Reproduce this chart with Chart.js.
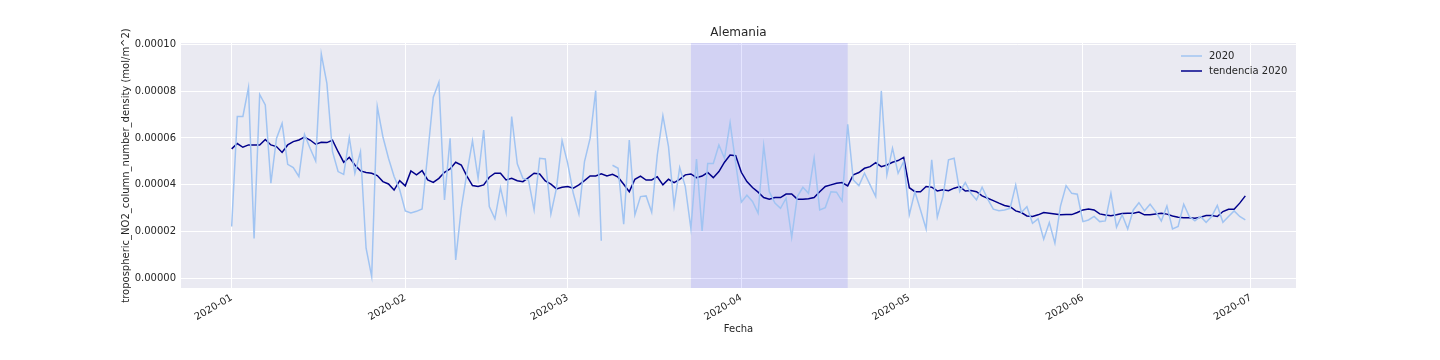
<!DOCTYPE html>
<html>
<head>
<meta charset="utf-8">
<script src="https://cdn.jsdelivr.net/npm/chart.js@4/dist/chart.umd.min.js"></script>
<style>
  html, body { margin: 0; padding: 0; background: #ffffff; }
  #wrap { width: 1440px; height: 360px; }
</style>
</head>
<body>
<div id="wrap"><canvas id="chart" width="1440" height="360"></canvas></div>
<script>
// day 0 = 2020-01-01, one value per day up to 2020-06-30
const startDate = '2020-01-01';

const no2_2020 = [
  2.21e-5, 6.92e-5, 6.92e-5, 8.15e-5, 1.70e-5, 7.86e-5, 7.41e-5, 4.06e-5, 5.98e-5, 6.62e-5,
  4.87e-5, 4.73e-5, 4.35e-5, 6.15e-5, 5.56e-5, 5.01e-5, 9.59e-5, 8.33e-5, 5.41e-5, 4.56e-5,
  4.44e-5, 6.01e-5, 4.49e-5, 5.41e-5, 1.28e-5, 0.07e-5, 7.34e-5, 6.05e-5, 5.13e-5, 4.35e-5,
  3.78e-5, 2.88e-5, 2.79e-5, 2.86e-5, 2.96e-5, 5.30e-5, 7.74e-5, 8.38e-5, 3.35e-5, 5.98e-5,
  0.78e-5, 2.99e-5, 4.49e-5, 5.87e-5, 4.27e-5, 6.34e-5, 3.06e-5, 2.54e-5, 3.87e-5, 2.81e-5,
  6.91e-5, 4.89e-5, 4.27e-5, 4.20e-5, 2.92e-5, 5.13e-5, 5.10e-5, 2.75e-5, 3.85e-5, 5.88e-5,
  4.91e-5, 3.63e-5, 2.75e-5, 4.99e-5, 5.98e-5, 8.02e-5, 1.60e-5, null,    4.83e-5, 4.70e-5,
  2.31e-5, 5.91e-5, 2.71e-5, 3.49e-5, 3.52e-5, 2.82e-5, 5.27e-5, 6.95e-5, 5.63e-5, 3.09e-5,
  4.73e-5, 3.92e-5, 2.12e-5, 5.10e-5, 2.02e-5, 4.91e-5, 4.91e-5, 5.70e-5, 5.13e-5, 6.65e-5,
  4.91e-5, 3.25e-5, 3.55e-5, 3.28e-5, 2.78e-5, 5.67e-5, 3.70e-5, 3.21e-5, 2.99e-5, 3.42e-5,
  1.75e-5, 3.49e-5, 3.89e-5, 3.63e-5, 5.13e-5, 2.92e-5, 3.02e-5, 3.70e-5, 3.68e-5, 3.30e-5,
  6.58e-5, 4.20e-5, 3.96e-5, 4.49e-5, 3.99e-5, 3.49e-5, 8.01e-5, 4.42e-5, 5.56e-5, 4.49e-5,
  4.99e-5, 2.71e-5, 3.70e-5, 2.92e-5, 2.11e-5, 5.06e-5, 2.61e-5, 3.49e-5, 5.06e-5, 5.13e-5,
  3.70e-5, 4.09e-5, 3.63e-5, 3.35e-5, 3.89e-5, 3.38e-5, 2.95e-5, 2.89e-5, 2.92e-5, 2.99e-5,
  3.99e-5, 2.81e-5, 3.06e-5, 2.35e-5, 2.54e-5, 1.67e-5, 2.38e-5, 1.50e-5, 3.09e-5, 3.96e-5,
  3.63e-5, 3.59e-5, 2.42e-5, 2.49e-5, 2.64e-5, 2.42e-5, 2.45e-5, 3.63e-5, 2.18e-5, 2.71e-5,
  2.11e-5, 2.92e-5, 3.23e-5, 2.88e-5, 3.16e-5, 2.85e-5, 2.45e-5, 3.09e-5, 2.11e-5, 2.21e-5,
  3.16e-5, 2.64e-5, 2.45e-5, 2.64e-5, 2.39e-5, 2.64e-5, 3.11e-5, 2.39e-5, 2.64e-5, 2.88e-5,
  2.64e-5, 2.49e-5
];

const tendencia_2020 = [
  5.53e-5, 5.76e-5, 5.60e-5, 5.70e-5, 5.70e-5, 5.70e-5, 5.93e-5, 5.70e-5, 5.63e-5, 5.38e-5,
  5.70e-5, 5.84e-5, 5.91e-5, 6.04e-5, 5.91e-5, 5.73e-5, 5.81e-5, 5.80e-5, 5.90e-5, 5.41e-5,
  4.96e-5, 5.17e-5, 4.84e-5, 4.59e-5, 4.52e-5, 4.49e-5, 4.39e-5, 4.13e-5, 4.03e-5, 3.77e-5,
  4.17e-5, 3.95e-5, 4.59e-5, 4.42e-5, 4.60e-5, 4.20e-5, 4.10e-5, 4.27e-5, 4.53e-5, 4.67e-5,
  4.96e-5, 4.84e-5, 4.37e-5, 3.96e-5, 3.92e-5, 3.99e-5, 4.32e-5, 4.49e-5, 4.49e-5, 4.20e-5,
  4.27e-5, 4.17e-5, 4.13e-5, 4.30e-5, 4.49e-5, 4.46e-5, 4.16e-5, 4.02e-5, 3.82e-5, 3.89e-5,
  3.92e-5, 3.85e-5, 3.99e-5, 4.17e-5, 4.37e-5, 4.37e-5, 4.46e-5, 4.37e-5, 4.44e-5, 4.32e-5,
  4.02e-5, 3.70e-5, 4.23e-5, 4.37e-5, 4.20e-5, 4.20e-5, 4.34e-5, 3.99e-5, 4.23e-5, 4.09e-5,
  4.23e-5, 4.42e-5, 4.46e-5, 4.30e-5, 4.37e-5, 4.52e-5, 4.30e-5, 4.56e-5, 4.96e-5, 5.27e-5,
  5.24e-5, 4.53e-5, 4.13e-5, 3.88e-5, 3.68e-5, 3.45e-5, 3.38e-5, 3.45e-5, 3.45e-5, 3.60e-5,
  3.60e-5, 3.38e-5, 3.38e-5, 3.40e-5, 3.45e-5, 3.70e-5, 3.92e-5, 3.99e-5, 4.06e-5, 4.09e-5,
  3.95e-5, 4.42e-5, 4.52e-5, 4.70e-5, 4.77e-5, 4.94e-5, 4.77e-5, 4.84e-5, 4.96e-5, 5.03e-5,
  5.17e-5, 3.87e-5, 3.70e-5, 3.70e-5, 3.92e-5, 3.89e-5, 3.73e-5, 3.78e-5, 3.74e-5, 3.85e-5,
  3.92e-5, 3.73e-5, 3.75e-5, 3.70e-5, 3.52e-5, 3.42e-5, 3.32e-5, 3.21e-5, 3.11e-5, 3.06e-5,
  2.88e-5, 2.81e-5, 2.66e-5, 2.64e-5, 2.71e-5, 2.81e-5, 2.78e-5, 2.75e-5, 2.71e-5, 2.72e-5,
  2.72e-5, 2.81e-5, 2.92e-5, 2.96e-5, 2.92e-5, 2.75e-5, 2.70e-5, 2.67e-5, 2.71e-5, 2.77e-5,
  2.78e-5, 2.78e-5, 2.83e-5, 2.71e-5, 2.71e-5, 2.75e-5, 2.78e-5, 2.74e-5, 2.66e-5, 2.61e-5,
  2.59e-5, 2.59e-5, 2.56e-5, 2.61e-5, 2.68e-5, 2.68e-5, 2.64e-5, 2.85e-5, 2.95e-5, 2.95e-5,
  3.21e-5, 3.52e-5
];

// month ticks (day offset from startDate) and their labels
const monthDays = [0, 31, 60, 91, 121, 152, 182];
const monthLabels = ['2020-01', '2020-02', '2020-03', '2020-04', '2020-05', '2020-06', '2020-07'];
const yTicks = [0, 0.00002, 0.00004, 0.00006, 0.00008, 0.0001];

// confinamiento: 2020-03-23 .. 2020-04-20 (day offsets)
const spanDays = [82, 110];

const TXT = '#262626';
const FONT = 'DejaVu Sans';

const toPoints = arr => arr.map((v, i) => ({ x: i, y: v }));

const bgPlugin = {
    id: 'axesBg',
    beforeDraw(chart) {
        const { ctx, chartArea: a } = chart;
        ctx.save();
        ctx.fillStyle = '#eaeaf2';
        ctx.fillRect(a.left, a.top, a.right - a.left, a.bottom - a.top);
        ctx.restore();
    },
    beforeDatasetsDraw(chart) {
        const { ctx, chartArea: a, scales: { x } } = chart;
        const x0 = x.getPixelForValue(spanDays[0]);
        const x1 = x.getPixelForValue(spanDays[1]);
        ctx.save();
        ctx.fillStyle = 'rgba(0, 0, 255, 0.1)';
        ctx.fillRect(x0, a.top, x1 - x0, a.bottom - a.top);
        ctx.restore();
    }
};

// legend drawn inside the axes, upper right (like matplotlib)
const innerLegend = {
    id: 'innerLegend',
    afterDatasetsDraw(chart) {
        const { ctx, chartArea: a } = chart;
        ctx.save();
        ctx.font = `10px "${FONT}"`;
        ctx.textBaseline = 'middle';
        chart.data.datasets.forEach((ds, i) => {
            const y = a.top + 13 + i * 15;
            ctx.strokeStyle = ds.borderColor;
            ctx.lineWidth = 1.5;
            ctx.beginPath();
            ctx.moveTo(a.right - 115, y);
            ctx.lineTo(a.right - 94, y);
            ctx.stroke();
            ctx.fillStyle = TXT;
            ctx.fillText(ds.label, a.right - 87, y);
        });
        ctx.restore();
    }
};

new Chart(document.getElementById('chart'), {
    type: 'line',
    data: {
        datasets: [
            { label: '2020', data: toPoints(no2_2020), borderColor: '#a1c4f2', borderWidth: 1.5, pointRadius: 0, spanGaps: false, tension: 0 },
            { label: 'tendencia 2020', data: toPoints(tendencia_2020), borderColor: '#00008b', borderWidth: 1.5, pointRadius: 0, tension: 0 }
        ]
    },
    options: {
        responsive: false,
        animation: false,
        events: [],
        layout: { padding: { left: 0, right: 144, top: 0, bottom: 0 } },
        plugins: {
            legend: { display: false },
            tooltip: { enabled: false },
            title: {
                display: true, text: 'Alemania', fullSize: false, color: TXT,
                font: { family: FONT, size: 12, weight: 'normal' },
                padding: { top: 26, bottom: 2.6 }
            }
        },
        scales: {
            x: {
                type: 'linear', min: -9.05, max: 190.05,
                afterBuildTicks: s => { s.ticks = monthDays.map(v => ({ value: v })); },
                afterFit: s => { s.height = 72; },
                ticks: {
                    color: TXT, font: { family: FONT, size: 10 },
                    minRotation: 30, maxRotation: 30, padding: 4,
                    callback: v => monthLabels[monthDays.indexOf(v)]
                },
                grid: { color: '#ffffff', lineWidth: 1, drawTicks: false },
                border: { display: false },
                title: { display: true, text: 'Fecha', color: TXT, font: { family: FONT, size: 10 }, padding: { top: 0, bottom: 25 } }
            },
            y: {
                min: -0.0000042, max: 0.0001006,
                afterBuildTicks: s => { s.ticks = yTicks.map(v => ({ value: v })); },
                afterFit: s => { s.width = 181; },
                ticks: {
                    color: TXT, font: { family: FONT, size: 10 }, padding: 5,
                    callback: v => v.toFixed(5)
                },
                grid: { color: '#ffffff', lineWidth: 1, drawTicks: false },
                border: { display: false },
                title: { display: true, text: 'tropospheric_NO2_column_number_density (mol/m^2)', color: TXT, font: { family: FONT, size: 10 }, padding: { top: 120, bottom: 0 } }
            }
        }
    },
    plugins: [bgPlugin, innerLegend]
});
</script>
</body>
</html>
